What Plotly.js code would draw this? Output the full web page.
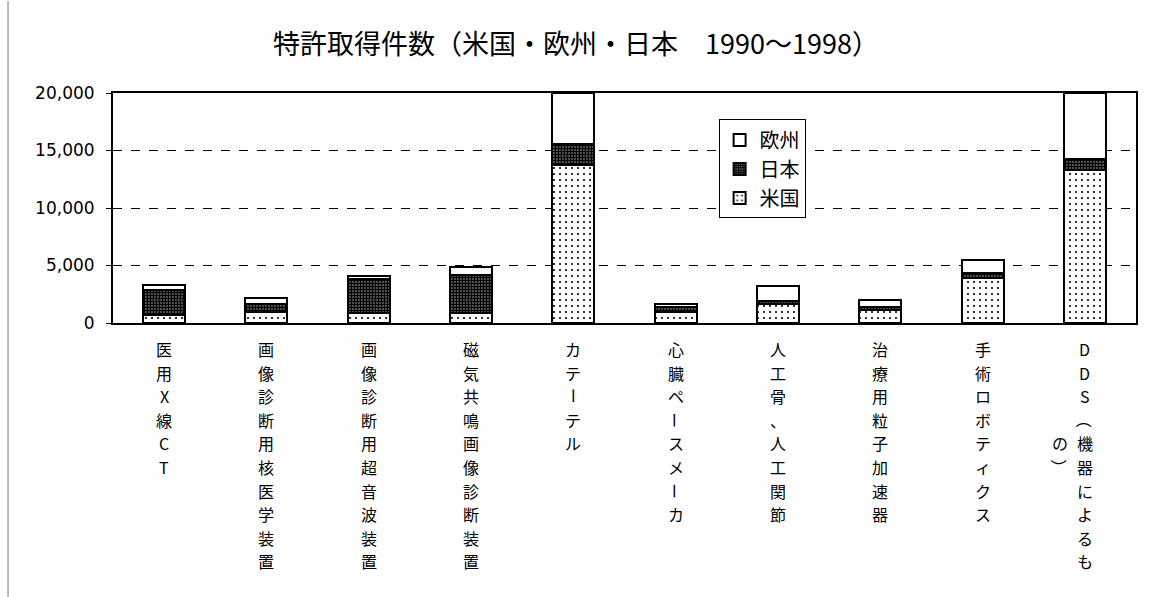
<!DOCTYPE html>
<html><head><meta charset="utf-8">
<script src="https://cdn.plot.ly/plotly-3.0.1.min.js"></script>
<style>html,body{margin:0;padding:0;background:#fff}#chart{width:1152px;height:597px}</style>
</head><body><div id="chart"></div>
<script>
const categories = ["医用X線CT","画像診断用核医学装置","画像診断用超音波装置","磁気共鳴画像診断装置","カテーテル","心臓ペースメーカ","人工骨、人工関節","治療用粒子加速器","手術ロボティクス","DDS（機器によるもの）"];
// vertical label layout: the last label wraps into a second column
const labelMainColumn = ["医用X線CT","画像診断用核医学装置","画像診断用超音波装置","磁気共鳴画像診断装置","カテーテル","心臓ペースメーカ","人工骨、人工関節","治療用粒子加速器","手術ロボティクス","DDS（機器によるも"];
const labelSecondColumn = ["","","","","","","","","","の）"];
const secondColumnStartRow = 4;
const usa = [700, 950, 870, 850, 13700, 950, 1650, 1130, 3900, 13300];
const japan = [2200, 700, 2950, 3300, 1900, 430, 300, 290, 430, 1000];
const europe = [400, 500, 280, 700, 4400, 260, 1300, 600, 1130, 5700];
const seriesNames = ["米国","日本","欧州"];
const yTicks = [0, 5000, 10000, 15000, 20000];

const fontJP = "Noto Sans CJK JP, sans-serif";
const lineStyle = {color: "#000", width: 2};
const traces = [
  {type: "bar", name: seriesNames[0], x: categories, y: usa,
   marker: {color: "#fff", line: lineStyle, pattern: {shape: ".", size: 6, solidity: 0.1, fgcolor: "#000", bgcolor: "#fff"}}},
  {type: "bar", name: seriesNames[1], x: categories, y: japan,
   marker: {color: "#fff", line: lineStyle, pattern: {shape: ".", size: 3, solidity: 0.8, fgcolor: "#000", bgcolor: "#fff"}}},
  {type: "bar", name: seriesNames[2], x: categories, y: europe,
   marker: {color: "#fff", line: lineStyle}}
];

const rotated = new Set(["ー","（","）"]);
const charFont = {family: fontJP, size: 16, color: "#000"};
const rowStep = 23.6, firstRow = 26;
const annotations = [];
function addColumn(cat, text, startRow, xshift) {
  Array.from(text).forEach((ch, i) => {
    annotations.push({x: cat, xref: "x", y: 0, yref: "paper", text: ch, showarrow: false, borderpad: 0,
      xanchor: "center", yanchor: "middle", xshift: xshift, yshift: -(firstRow + (startRow + i) * rowStep),
      textangle: rotated.has(ch) ? 90 : 0, font: charFont});
  });
}
categories.forEach((cat, k) => {
  addColumn(cat, labelMainColumn[k], 0, 0);
  if (labelSecondColumn[k]) addColumn(cat, labelSecondColumn[k], secondColumnStartRow, -25);
});

const layout = {
  width: 1152, height: 597,
  margin: {l: 113, r: 16, t: 93, b: 274},
  paper_bgcolor: "#fff", plot_bgcolor: "#fff",
  barmode: "stack", bargap: 0.59,
  showlegend: true,
  title: {text: "特許取得件数（米国・欧州・日本　1990～1998）", x: 0.5, xanchor: "center", y: 0.925, yanchor: "middle",
          font: {family: fontJP, size: 27, color: "#000"}},
  font: {family: fontJP, color: "#000"},
  xaxis: {type: "category", showticklabels: false, ticks: "", showline: true, linecolor: "#000", linewidth: 2,
          mirror: true, showgrid: false, automargin: false},
  yaxis: {range: [0, 20000], tickvals: yTicks, tickformat: ",d", showgrid: true, gridcolor: "#000", griddash: "dash", gridwidth: 1,
          showline: true, linecolor: "#000", linewidth: 2, mirror: true, ticks: "outside", ticklen: 5, tickcolor: "#000",
          ticklabelstandoff: 8,
          tickfont: {family: "DejaVu Sans, sans-serif", size: 17, color: "#000"}, zeroline: false, automargin: false},
  legend: {x: 0.592, y: 0.885, xanchor: "left", yanchor: "top", traceorder: "reversed", bgcolor: "#fff",
           bordercolor: "#000", borderwidth: 1, font: {family: fontJP, size: 20, color: "#000"}, itemwidth: 30,
           tracegroupgap: 0},
  annotations: annotations,
  shapes: [{type: "line", xref: "paper", yref: "paper", x0: -0.1026, x1: -0.1026, y0: -1.19, y1: 1.40,
            line: {color: "#777", width: 1}}]
};
Plotly.newPlot("chart", traces, layout, {displayModeBar: false});
</script></body></html>
